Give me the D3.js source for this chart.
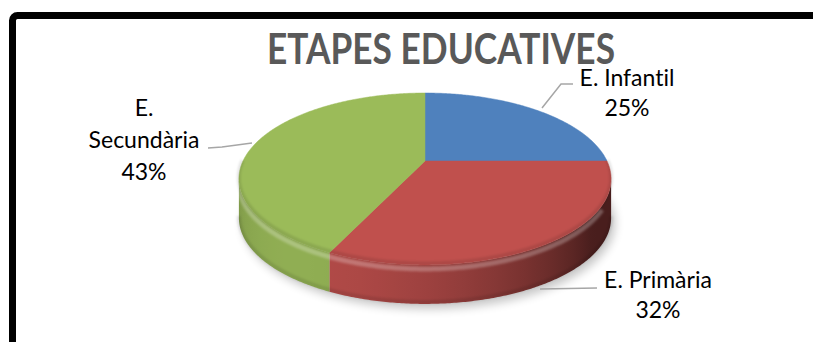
<!DOCTYPE html>
<html>
<head>
<meta charset="utf-8">
<script src="https://cdn.jsdelivr.net/npm/d3@7"></script>
<style>
  html, body { margin: 0; padding: 0; background: #ffffff; }
  svg { display: block; }
  text { font-variant-ligatures: none; font-feature-settings: "liga" 0, "dlig" 0; }
</style>
</head>
<body>
<svg id="chart" width="813" height="342"></svg>
<script>
// ---- data ----
const title = "ETAPES EDUCATIVES";
const categories = ["E. Infantil", "E. Primària", "E. Secundària"];
const values = [25, 32, 43];
const percentLabels = ["25%", "32%", "43%"];
const colors = ["#4F81BD", "#C0504D", "#9BBB59"];
// label lines (text split as in the picture)
const labelLines = [["E. Infantil", "25%"], ["E. Primària", "32%"], ["E.", "Secundària", "43%"]];

// ---- layout ----
const cx = 425, cy = 161;        // projected pie centre (slice apex)
const R = 182, RY = 82.2, K = 0.209, DEPTH = 39;

const svg = d3.select("#chart");

const defs = svg.append("defs");
defs.append("filter").attr("id", "shadowBlur").attr("x", "-20%").attr("y", "-20%").attr("width", "140%").attr("height", "140%")
  .append("feGaussianBlur").attr("stdDeviation", 5);
defs.append("filter").attr("id", "rimBlur").attr("x", "-10%").attr("y", "-10%").attr("width", "120%").attr("height", "120%")
  .append("feGaussianBlur").attr("stdDeviation", 1.3);

// frame
svg.append("rect")
  .attr("x", 12.5).attr("y", 15.5)
  .attr("width", 900).attr("height", 500)
  .attr("rx", 5)
  .attr("fill", "#ffffff")
  .attr("stroke", "#000000")
  .attr("stroke-width", 7);

// title
svg.append("text")
  .attr("x", 441).attr("y", 64)
  .attr("text-anchor", "middle")
  .attr("font-family", "Lato, 'Open Sans', sans-serif")
  .attr("font-weight", "bold")
  .attr("font-size", 42)
  .attr("fill", "#595959")
  .attr("textLength", 348)
  .attr("lengthAdjust", "spacingAndGlyphs")
  .text(title);

// perspective projection of the disk
function proj(theta, z) {
  const X = Math.sin(theta), Y = Math.cos(theta);
  const s = 1 / (1 + K * Y);
  return [cx + R * X * s, cy - RY * Y * s + z];
}

const pie = d3.pie().sort(null).value(d => d);
const arcs = pie(values);

const line = d3.line();
function arcPoints(a0, a1, z) {
  const n = Math.max(2, Math.ceil((a1 - a0) / 0.01));
  const pts = [];
  for (let i = 0; i <= n; i++) pts.push(proj(a0 + (a1 - a0) * i / n, z));
  return pts;
}

// shadow
const shadowPts = arcPoints(0, 2 * Math.PI, DEPTH);
svg.append("path")
  .attr("d", line(shadowPts.map(p => [p[0] + 4, p[1] + 5])) + "Z")
  .attr("fill", "#000")
  .attr("opacity", 0.22)
  .attr("filter", "url(#shadowBlur)");

// side walls: one path per slice, shaded with a horizontal gradient following the angle
const t1 = Math.acos(-K), t2 = 2 * Math.PI - t1;
const light = [-0.6, -0.8];
const sideG = svg.append("g");
arcs.forEach((a, i) => {
  const s0 = Math.max(a.startAngle, t1), s1 = Math.min(a.endAngle, t2);
  if (s1 <= s0) return;
  const base = d3.rgb(colors[i]);
  const xa = proj(s0, 0)[0], xb = proj(s1, 0)[0];
  const grad = defs.append("linearGradient")
    .attr("id", "side" + i)
    .attr("gradientUnits", "userSpaceOnUse")
    .attr("x1", xa).attr("y1", 0).attr("x2", xb).attr("y2", 0);
  const n = 24;
  for (let j = 0; j <= n; j++) {
    const th = s0 + (s1 - s0) * j / n;
    const x = proj(th, 0)[0];
    const d = Math.max(0, Math.sin(th) * light[0] + Math.cos(th) * light[1]);
    const f = 0.38 + 0.55 * d;
    grad.append("stop")
      .attr("offset", (x - xa) / (xb - xa))
      .attr("stop-color", d3.rgb(base.r * f, base.g * f, base.b * f).formatHex());
  }
  const top = arcPoints(s0, s1, 0);
  const bot = arcPoints(s0, s1, DEPTH).reverse();
  sideG.append("path")
    .attr("d", line(top.concat(bot)) + "Z")
    .attr("fill", "url(#side" + i + ")");
});

// rim highlight along the top of the side wall
svg.append("path")
  .attr("d", line(arcPoints(t1 + 0.3, t2 - 0.05, 4)))
  .attr("fill", "none")
  .attr("stroke", "#ffffff")
  .attr("stroke-opacity", 0.25)
  .attr("stroke-width", 5)
  .attr("filter", "url(#rimBlur)");
// darker lower edge
svg.append("path")
  .attr("d", line(arcPoints(t1, t2, DEPTH - 2)))
  .attr("fill", "none")
  .attr("stroke", "#000000")
  .attr("stroke-opacity", 0.1)
  .attr("stroke-width", 4)
  .attr("filter", "url(#rimBlur)");

// top faces
const topG = svg.append("g");
arcs.forEach((a, i) => {
  const pts = [[cx, cy]].concat(arcPoints(a.startAngle, a.endAngle, 0));
  topG.append("path")
    .attr("d", line(pts) + "Z")
    .attr("fill", colors[i])
    .attr("stroke", colors[i])
    .attr("stroke-width", 0.5);
});
// soft bevel on top face edge
svg.append("path")
  .attr("d", line(arcPoints(t1 - 0.2, t2 + 0.2, -1.5)))
  .attr("fill", "none")
  .attr("stroke", "#000000")
  .attr("stroke-opacity", 0.1)
  .attr("stroke-width", 4)
  .attr("filter", "url(#rimBlur)");

// leader lines
const leaders = [
  [[542, 108], [561, 84], [573, 84]],
  [[540, 289], [597, 288]],
  [[252, 143], [222, 147], [208, 148]]
];
svg.append("g").selectAll("path").data(leaders).join("path")
  .attr("d", d => line(d))
  .attr("fill", "none")
  .attr("stroke", "#A6A6A6")
  .attr("stroke-width", 1.5);

// data labels
const labelPos = [
  { x: 627, y: [86, 116] },
  { x: 658, y: [288, 318] },
  { x: 144, y: [116, 148, 180] }
];
const labG = svg.append("g")
  .attr("font-family", "Lato, 'Open Sans', sans-serif")
  .attr("font-size", 23)
  .attr("fill", "#000000")
  .attr("text-anchor", "middle");
labelLines.forEach((lines, i) => {
  lines.forEach((t, j) => {
    labG.append("text")
      .attr("x", labelPos[i].x)
      .attr("y", labelPos[i].y[j])
      .text(t);
  });
});
</script>
</body>
</html>
